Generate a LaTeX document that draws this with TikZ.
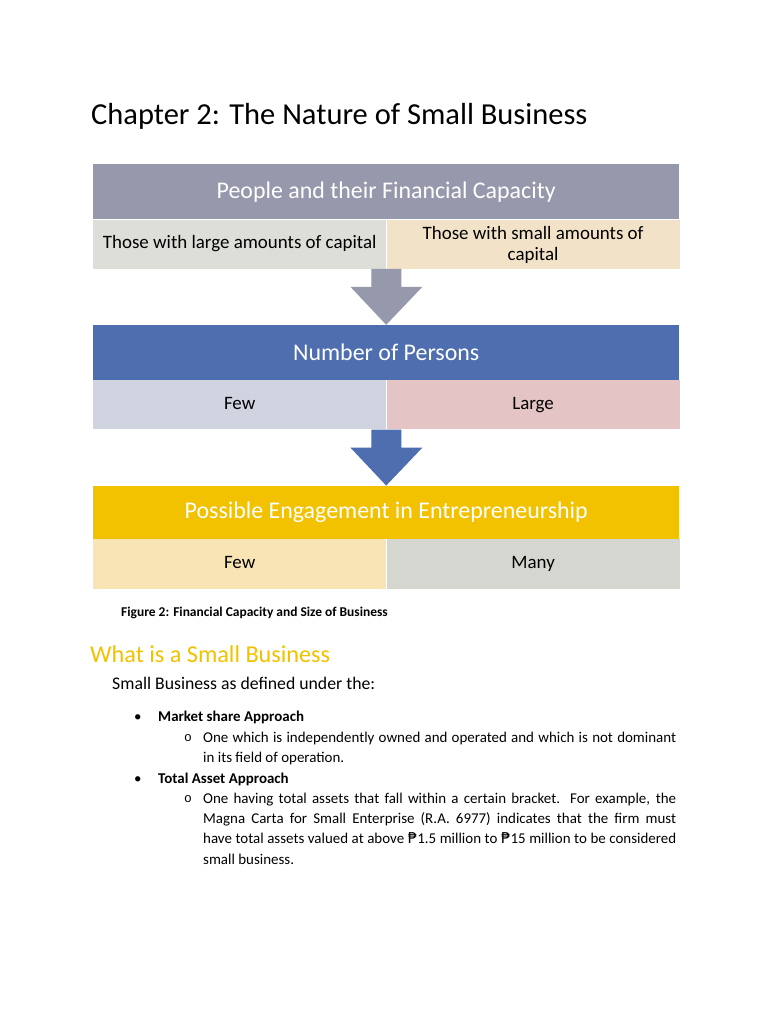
\documentclass[tikz,border=0pt]{standalone}
\usepackage{fontspec}
\setmainfont{Carlito}
\newfontfamily\pesofont{DejaVu Sans}
\newfontfamily\markfont{Liberation Mono}
\newcommand\peso{{\pesofont ₱}}
\usetikzlibrary{positioning,calc}
\definecolor{hdrgray}{RGB}{150,152,172}
\definecolor{hdrblue}{RGB}{79,110,176}
\definecolor{hdrgold}{RGB}{242,194,0}
\definecolor{cellgray}{RGB}{221,222,216}
\definecolor{cellsand}{RGB}{242,226,200}
\definecolor{cellblue}{RGB}{208,211,224}
\definecolor{cellrose}{RGB}{228,196,196}
\definecolor{cellcream}{RGB}{249,228,180}
\definecolor{cellstone}{RGB}{214,214,208}
\tikzset{
  hdr/.style={anchor=north west,minimum width=586bp,minimum height=55bp,inner sep=0pt,text=white,font=\fontsize{24}{28}\selectfont},
  cell/.style={anchor=north west,minimum width=293bp,minimum height=49bp,inner sep=0pt,align=center,font=\fontsize{19}{21}\selectfont,execute at begin node=\strut,execute at end node=\strut},
  body/.style={anchor=base west,inner sep=0pt,font=\fontsize{15}{20.5}\selectfont}
}
\begin{document}
\begin{tikzpicture}[x=1bp,y=-1bp]
\useasboundingbox[fill=white](0,0)rectangle(768,1024);
\node[anchor=base west,inner sep=0pt,font=\fontsize{30.6}{36}\selectfont](title)at(91,124){Chapter 2: The Nature of Small Business};
\node[hdr,fill=hdrgray](h1)at(93,164){People and their Financial Capacity};
\node[cell,fill=cellgray](r1a)at(h1.south west){Those with large amounts of capital};
\node[cell,fill=cellsand,text depth=2bp](r1b)at(r1a.north east){Those with small amounts of\\capital};
\node[below=56bp of r1a.south west,hdr,fill=hdrblue](h2){Number of Persons};
\node[cell,fill=cellblue](r2a)at(h2.south west){Few};
\node[cell,fill=cellrose](r2b)at(r2a.north east){Large};
\node[below=56bp of r2a.south west,hdr,fill=hdrgold,minimum height=53bp](h3){Possible Engagement in Entrepreneurship};
\node[cell,fill=cellcream,minimum height=50bp](r3a)at(h3.south west){Few};
\node[cell,fill=cellstone,minimum height=50bp](r3b)at(r3a.north east){Many};
\foreach\a/\b/\c in{r1a/h2/hdrgray,r2a/h3/hdrblue}\fill[\c]let\p1=(\a.south east),\p2=(\b.north)in(\x1-15bp,\y1)--(\x1+15bp,\y1)--(\x1+15bp,\y2+38bp)--(\x1+36bp,\y2+38bp)--(\p2)--(\x1-36bp,\y2+38bp)--(\x1-15bp,\y2+38bp)--cycle;
\node[body,font=\bfseries\fontsize{13.5}{16}\selectfont](cap)at(121,616){Figure 2: Financial Capacity and Size of Business};
\node[body,text=hdrgold,font=\fontsize{24.3}{28}\selectfont](what)at(90,662){What is a Small Business};
\node[body,font=\fontsize{17.8}{20}\selectfont](intro)at(112,689){Small Business as defined under the:};
\foreach\n/\y/\t in{1/721/Market share Approach,2/783/Total Asset Approach}{\node[body](dot\n)at(134,\y){•};\node[body,font=\bfseries\fontsize{15}{20.5}\selectfont](ap\n)at(158,\y){\t};}
\foreach\n/\y in{1/741,2/802}\node[body,font=\markfont\fontsize{13}{14}\selectfont](o\n)at(184,\y){o};
\node[body,text width=473bp,align=justify](def1)at(203,742){One which is independently owned and operated and which is not dominant\linebreak in its field of operation.};
\node[body,text width=473bp,align=justify](def2)at(203,803){One having total assets that fall within a certain bracket. For example, the\linebreak Magna Carta for Small Enterprise (R.A. 6977) indicates that the firm must\linebreak have total assets valued at above \peso1.5 million to \peso15 million to be considered\linebreak small business.};
\end{tikzpicture}
\end{document}
